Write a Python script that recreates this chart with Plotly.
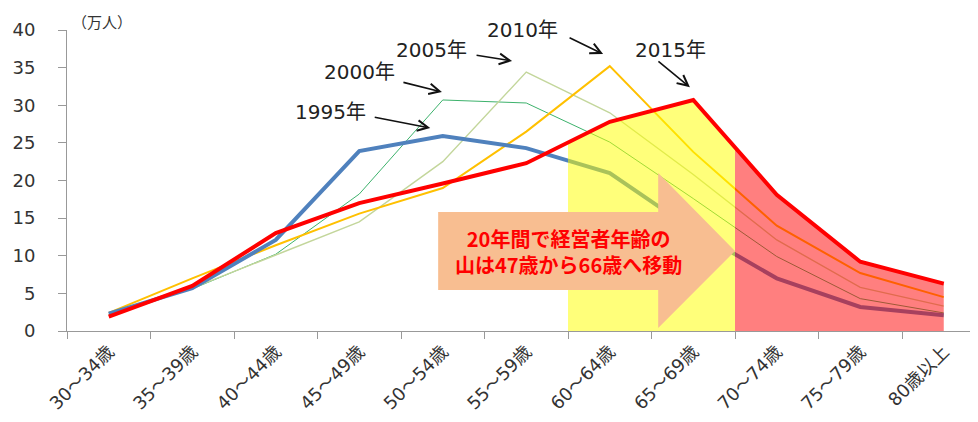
import numpy as np
import plotly.graph_objects as go

categories = ["30～34歳", "35～39歳", "40～44歳", "45～49歳", "50～54歳", "55～59歳",
              "60～64歳", "65～69歳", "70～74歳", "75～79歳", "80歳以上"]
v1995 = [2.3, 5.7, 12.1, 23.9, 25.9, 24.3, 21.0, 13.4, 7.0, 3.2, 2.1]
v2000 = [2.2, 5.6, 10.2, 18.2, 30.7, 30.3, 25.1, 17.6, 9.9, 4.3, 2.4]
v2005 = [2.1, 5.7, 10.1, 14.5, 22.5, 34.4, 29.0, 20.8, 12.1, 5.8, 3.3]
v2010 = [2.4, 7.0, 11.4, 15.6, 19.0, 26.5, 35.2, 23.8, 14.0, 7.7, 4.5]
v2015 = [1.9, 6.0, 13.0, 17.0, 19.6, 22.3, 27.8, 30.7, 18.1, 9.2, 6.3]
year_labels = ["1995年", "2000年", "2005年", "2010年", "2015年"]
message = "<b>20年間で経営者年齢の<br>山は47歳から66歳へ移動</b>"
unit_label = "（万人）"

FONT = "Noto Sans CJK JP, DejaVu Sans, sans-serif"
WIDE = "DejaVu Sans, Noto Sans CJK JP, sans-serif"
idx = np.arange(len(categories))

fig = go.Figure()
styles = [
    (v2000, "#3DB26C", 1.0),
    (v2005, "#C3D69B", 1.4),
    (v2010, "#FFC000", 2.0),
    (v1995, "#4F81BD", 4.0),
]
for vals, col, w in styles:
    fig.add_trace(go.Scatter(x=idx, y=vals, mode="lines",
                             line=dict(color=col, width=w), hoverinfo="skip"))

# shaded areas under the 2015 curve
def seg(a, b):
    xs = np.concatenate([[a], idx[(idx > a) & (idx < b)], [b]])
    return xs, np.interp(xs, idx, v2015)

xs, ys = seg(5.5, 7.5)
fig.add_trace(go.Scatter(x=xs, y=ys, mode="lines", fill="tozeroy",
                         fillcolor="rgba(255,255,0,0.52)",
                         line=dict(color="rgba(235,230,0,0.6)", width=1), hoverinfo="skip"))
xs, ys = seg(7.5, 10)
fig.add_trace(go.Scatter(x=xs, y=ys, mode="lines", fill="tozeroy",
                         fillcolor="rgba(255,0,0,0.5)",
                         line=dict(width=0), hoverinfo="skip"))

fig.add_trace(go.Scatter(x=idx, y=v2015, mode="lines",
                         line=dict(color="#FF0000", width=4), hoverinfo="skip"))

# big arrow
fig.add_shape(type="path", xref="x", yref="y", layer="above",
              path="M 3.945,15.81 L 6.58,15.81 L 6.58,21.0 L 7.5,10.63 L 6.58,0.4 L 6.58,5.45 L 3.945,5.45 Z",
              fillcolor="#F8BE91", line=dict(width=0))

fig.add_annotation(x=5.5, y=10.63, xref="x", yref="y", text=message, showarrow=False,
                   font=dict(family=FONT, size=20, color="#FF0000"), align="center")

# year labels and arrows
text_pos = [(2.66, 29.1), (3.0, 34.4), (3.86, 37.3), (4.95, 40.0), (6.73, 37.3)]
heads = [(3.85, 26.98, -57, -11), (3.99, 31.76, -40, -10), (4.83, 35.88, -37, -6),
         (5.92, 36.8, -35, -17), (6.96, 32.4, -33, -27)]
for lab, (tx, ty), (hx, hy, ax, ay) in zip(year_labels, text_pos, heads):
    fig.add_annotation(x=tx, y=ty, xref="x", yref="y", text=lab, showarrow=False,
                       font=dict(family=WIDE, size=20, color="#222"))
    fig.add_annotation(x=hx, y=hy, xref="x", yref="y", text="", showarrow=True,
                       ax=ax, ay=ay, arrowhead=5, arrowsize=1.3, arrowwidth=1.6,
                       arrowcolor="#111")

fig.add_annotation(x=0.004, y=1.068, xref="paper", yref="paper", text=unit_label,
                   xanchor="left", yanchor="top", borderpad=0,
                   showarrow=False, font=dict(family=FONT, size=15, color="#333"))

# page body has an 8px margin: figure sized/offset to keep the plot area in place
fig.update_layout(
    width=970, height=414,
    margin=dict(l=59, r=0, t=22, b=91, autoexpand=False),
    plot_bgcolor="white", paper_bgcolor="white",
    showlegend=False,
    font=dict(family=FONT, color="#333"),
    xaxis=dict(range=[-0.5, 10.41], tickmode="array", tickvals=idx, ticktext=categories,
               tickangle=-45, showline=True, linecolor="#999", linewidth=1,
               showgrid=False, zeroline=False, ticks="", automargin=False,
               ticklabelstandoff=2,
               tickfont=dict(family=WIDE, size=18, color="#333"),
               minor=dict(tick0=-0.5, dtick=1, ticks="outside", ticklen=7, tickcolor="#999")),
    yaxis=dict(range=[0, 40], dtick=5, showline=True, linecolor="#999", linewidth=1,
               showgrid=False, zeroline=False, ticks="outside", ticklen=8, tickcolor="#999",
               ticklabelstandoff=19, automargin=False,
               tickfont=dict(family="DejaVu Sans", size=18, color="#333")),
)

fig.write_html("out.html")
